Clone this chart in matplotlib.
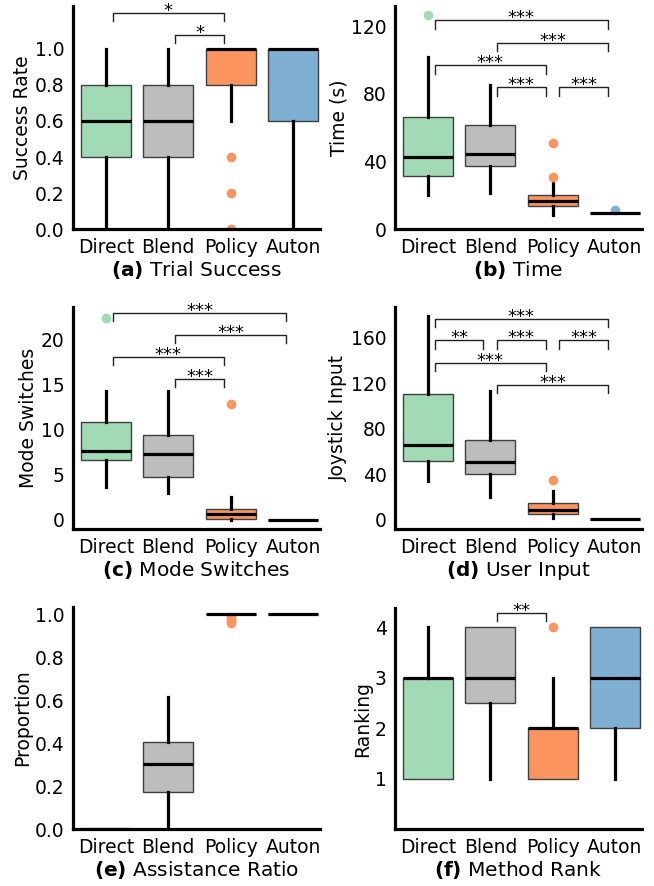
import matplotlib
matplotlib.use('Agg')
import matplotlib.pyplot as plt

# methods and colours
methods = ['Direct', 'Blend', 'Policy', 'Auton']
colors = ['#a1dab4', '#bdbdbd', '#fc9460', '#7fb0d4']

# box summaries per method: (whislo, q1, med, q3, whishi)
success = [[0.0, 0.4, 0.6, 0.8, 1.0], [0.0, 0.4, 0.6, 0.8, 1.0],
           [0.6, 0.8, 1.0, 1.0, 1.0], [0.0, 0.6, 1.0, 1.0, 1.0]]
success_fliers = [[], [], [0.4, 0.2, 0.0], []]

time_s = [[20.3, 31.6, 43.0, 66.1, 101.8], [21.7, 37.3, 44.4, 61.4, 85.1],
          [8.5, 13.8, 17.0, 20.3, 28.2], [9.8, 9.8, 9.8, 9.8, 9.8]]
time_fliers = [[126.5], [], [50.9, 31.2], [11.2]]

switches = [[3.7, 6.7, 7.7, 10.85, 14.3], [3.0, 4.75, 7.3, 9.4, 14.3],
            [0.0, 0.07, 0.67, 1.22, 2.5], [0.0, 0.0, 0.0, 0.0, 0.0]]
switches_fliers = [[22.4], [], [12.9], []]

joystick = [[34.2, 51.8, 65.8, 110.6, 179.0], [19.9, 40.1, 51.2, 70.2, 113.5],
            [1.5, 5.0, 8.8, 14.6, 25.7], [0.5, 0.5, 0.5, 0.5, 0.5]]
joystick_fliers = [[], [], [35.1], []]

assist = [[0.0, 0.0, 0.0, 0.0, 0.0], [0.0, 0.174, 0.302, 0.406, 0.614],
          [1.0, 1.0, 1.0, 1.0, 1.0], [1.0, 1.0, 1.0, 1.0, 1.0]]
assist_fliers = [[], [], [0.99, 0.98, 0.97, 0.96], []]

rank = [[1, 1, 3, 3, 4], [1, 2.5, 3, 4, 4],
        [1, 1, 2, 2, 3], [1, 2, 3, 4, 4]]
rank_fliers = [[], [], [4], []]

# significance brackets: (from, to, height, label)
success_sig = [(0, 2, 1.199, '*'), (1, 2, 1.076, '*')]
time_sig = [(0, 3, 123.5, '***'), (1, 3, 110.1, '***'), (0, 2, 96.9, '***'),
            (1, 2, 83.9, '***'), (2, 3, 83.9, '***')]
switches_sig = [(0, 3, 23.0, '***'), (1, 3, 20.6, '***'), (0, 2, 18.1, '***'),
                (1, 2, 15.7, '***')]
joystick_sig = [(0, 3, 176.4, '***'), (0, 1, 157.4, '**'), (1, 2, 157.4, '***'),
                (2, 3, 157.4, '***'), (0, 2, 137.8, '***'), (1, 3, 118.5, '***')]
rank_sig = [(1, 2, 4.28, '**')]

panels = [
    (success, success_fliers, success_sig, 'Success Rate', '(a)', 'Trial Success',
     (0, 1.236), [0, 0.2, 0.4, 0.6, 0.8, 1.0], '{:.1f}'),
    (time_s, time_fliers, time_sig, 'Time (s)', '(b)', 'Time',
     (0, 132), [0, 40, 80, 120], '{:.0f}'),
    (switches, switches_fliers, switches_sig, 'Mode Switches', '(c)', 'Mode Switches',
     (-1.04, 23.7), [0, 5, 10, 15, 20], '{:.0f}'),
    (joystick, joystick_fliers, joystick_sig, 'Joystick Input', '(d)', 'User Input',
     (-8.2, 187), [0, 40, 80, 120, 160], '{:.0f}'),
    (assist, assist_fliers, [], 'Proportion', '(e)', 'Assistance Ratio',
     (0, 1.036), [0, 0.2, 0.4, 0.6, 0.8, 1.0], '{:.1f}'),
    (rank, rank_fliers, rank_sig, 'Ranking', '(f)', 'Method Rank',
     (0, 4.375), [1, 2, 3, 4], '{:.0f}'),
]

W, H = 654, 886
fig = plt.figure(figsize=(W / 100, H / 100), dpi=100)

# axes boxes in pixels: left, top, right, bottom
boxes_px = [(72.7, 6, 320, 229.3), (395, 6, 641.7, 229.3),
            (72.7, 306.7, 320, 529.3), (395, 306.7, 641.7, 529.3),
            (72.7, 606.7, 320, 829.3), (395, 608.3, 641.7, 829.3)]

for (data, fliers, sig, ylab, tag, name, ylim, yt, fmt), (l, t, r, b) in zip(panels, boxes_px):
    ax = fig.add_axes([l / W, 1 - b / H, (r - l) / W, (b - t) / H])
    stats = []
    for d, f in zip(data, fliers):
        stats.append(dict(whislo=d[0], q1=d[1], med=d[2], q3=d[3], whishi=d[4], fliers=f))
    bp = ax.bxp(stats, positions=range(4), widths=0.8, patch_artist=True, showcaps=False,
                boxprops=dict(edgecolor='#404040', linewidth=1),
                whiskerprops=dict(color='black', linewidth=2.3),
                medianprops=dict(color='black', linewidth=2.3),
                flierprops=dict(marker='o', markersize=7, markeredgewidth=0))
    for patch, fl, c in zip(bp['boxes'], bp['fliers'], colors):
        patch.set_facecolor(c)
        fl.set_markerfacecolor(c)

    rng = ylim[1] - ylim[0]
    drop = 0.037 * rng
    for i, j, y, lab in sig:
        x1, x2 = i + 0.11, j - 0.11
        ax.plot([x1, x1, x2, x2], [y - drop, y, y, y - drop], color='#222222', lw=1, clip_on=False)
        ax.annotate(lab, ((x1 + x2) / 2, y), xytext=(0, 1.5), textcoords='offset points',
                    ha='center', va='center', fontsize=13, annotation_clip=False)

    ax.set_xlim(-0.53, 3.43)
    ax.set_ylim(*ylim)
    ax.set_xticks(range(4))
    ax.set_xticklabels(methods, fontsize=13.5)
    ax.set_yticks(yt)
    ax.set_yticklabels([fmt.format(v) for v in yt], fontsize=13.5)
    ax.tick_params(length=0, pad=6)
    ax.set_ylabel(ylab, fontsize=13.5, labelpad=2)
    ax.set_xlabel(r'$\mathbf{' + tag + '}$ ' + name, fontsize=14.5, labelpad=2)
    for s in ['top', 'right']:
        ax.spines[s].set_visible(False)
    for s in ['left', 'bottom']:
        ax.spines[s].set_linewidth(2.3)

fig.savefig('out.png', dpi=100)
